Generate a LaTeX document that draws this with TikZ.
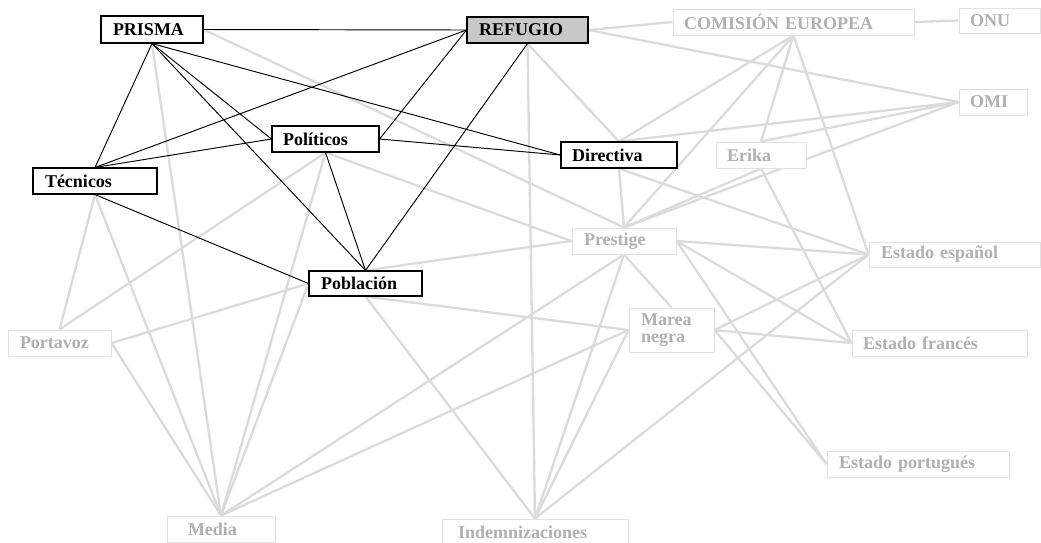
\documentclass[tikz,border=0pt]{standalone}
\usepackage{fontspec}
\setmainfont{Liberation Serif}
\definecolor{linkgray}{HTML}{DBDBDB}
\definecolor{boxgray}{HTML}{E2E2E2}
\definecolor{txtgray}{HTML}{B0B0B0}
\definecolor{refgray}{HTML}{C8C8C8}
\pgfdeclarelayer{paper}
\pgfdeclarelayer{links}
\pgfdeclarelayer{ties}
\pgfsetlayers{paper,links,ties,main}
\tikzset{
  label font/.style={font=\bfseries\fontsize{18}{16.5}\selectfont},
  core/.style={draw=black, line width=1.1pt, fill=white, inner ysep=0pt,
    align=left, label font, text=black},
  faint/.style={draw=boxgray, line width=1pt, fill=white, inner ysep=0pt,
    align=left, label font, text=txtgray},
  tie/.style={draw=black, line width=0.95pt},
  link/.style={draw=linkgray, line width=2.3pt},
}
% style, name, centre x, centre y, width, height, left padding, text
\newcommand\putbox[8]{%
  \pgfmathsetmacro\boxtw{#5-2*#7}%
  \node[#1, inner xsep=#7pt, text width=\boxtw pt, minimum height=#6pt]
    (#2) at (#3,#4) {#8};}
\begin{document}
\begin{tikzpicture}[x=1pt,y=-1pt]
\useasboundingbox (0,0) rectangle (1041,542);
\begin{pgfonlayer}{paper}
  \fill[white] (0,0) rectangle (1041,542);
\end{pgfonlayer}

% actors
\putbox{core}{prisma}{152}{29.5}{102}{27}{12}{PRISMA}
\putbox{core,fill=refgray}{refugio}{527.5}{30}{121}{26}{12}{REFUGIO}
\putbox{faint}{comision}{793.5}{22}{241}{26}{11}{COMISI\'ON EUROPEA}
\putbox{faint}{onu}{999.5}{20.5}{81}{25}{11}{ONU}
\putbox{faint}{omi}{993}{102}{68}{26}{11}{OMI}
\putbox{faint}{erika}{761}{155}{90}{26}{11}{Erika}
\putbox{core}{politicos}{325.5}{139}{107}{26}{11}{Pol\'{\i}ticos}
\putbox{core}{directiva}{619}{155}{116}{26}{11}{Directiva}
\putbox{core}{tecnicos}{95}{181}{124}{26}{12}{T\'ecnicos}
\putbox{core}{poblacion}{365.5}{283.5}{113}{25}{12}{Poblaci\'on}
\putbox{faint}{portavoz}{59.5}{343}{103}{26}{12}{Portavoz}
\putbox{faint}{prestige}{624}{241}{104}{26}{12}{Prestige}
\putbox{faint}{marea}{671.5}{330}{85}{44}{12}{Marea\\negra}
\putbox{faint}{espanol}{954.5}{254.5}{171}{25}{12}{Estado espa\~nol}
\putbox{faint}{frances}{939.5}{343}{175}{26}{11}{Estado franc\'es}
\putbox{faint}{portugues}{918}{464}{182}{26}{12}{Estado portugu\'es}
\putbox{faint}{media}{221}{529}{108}{26}{21}{Media}
\putbox{faint}{indemn}{535}{532}{186}{26}{16}{Indemnizaciones}

% weak relations
\begin{pgfonlayer}{links}
  \draw[link] (prisma.south) -- (media.north);
  \draw[link] (prisma.east) -- (prestige.north);
  \draw[link] (tecnicos.south) -- (portavoz.north);
  \draw[link] (tecnicos.south) -- (media.north);
  \draw[link] (politicos.south) -- (portavoz.north);
  \draw[link] (politicos.south) -- (media.north);
  \draw[link] (politicos.south) -- (prestige.west);
  \draw[link] (portavoz.east) -- (poblacion.west);
  \draw[link] (portavoz.east) -- (media.north);
  \draw[link] (poblacion.west) -- (media.north);
  \draw[link] (poblacion.north) -- (prestige.west);
  \draw[link] (poblacion.south) -- (marea.west);
  \draw[link] (poblacion.south) -- (indemn.north);
  \draw[link] (refugio.east) -- (comision.west);
  \draw[link] (refugio.east) -- (omi.west);
  \draw[link] (refugio.south) -- (directiva.north);
  \draw[link] (refugio.south) -- (indemn.north);
  \draw[link] (comision.east) -- (onu.west);
  \draw[link] (comision.south) -- (directiva.north);
  \draw[link] (comision.south) -- (prestige.north);
  \draw[link] (comision.south) -- (erika.north);
  \draw[link] (comision.south) -- (espanol.west);
  \draw[link] (omi.west) -- (directiva.north);
  \draw[link] (omi.west) -- (erika.north);
  \draw[link] (omi.west) -- (prestige.north);
  \draw[link] (erika.south) -- (prestige.north);
  \draw[link] (erika.south) -- (frances.west);
  \draw[link] (directiva.south) -- (prestige.north);
  \draw[link] (directiva.south) -- (espanol.west);
  \draw[link] (prestige.east) -- (espanol.west);
  \draw[link] (prestige.east) -- (frances.west);
  \draw[link] (prestige.east) -- (portugues.west);
  \draw[link] (prestige.south) -- (marea.north);
  \draw[link] (prestige.south) -- (media.north);
  \draw[link] (prestige.south) -- (indemn.north);
  \draw[link] (marea.west) -- (media.north);
  \draw[link] (marea.west) -- (indemn.north);
  \draw[link] (marea.east) -- (espanol.west);
  \draw[link] (marea.east) -- (frances.west);
  \draw[link] (marea.east) -- (portugues.west);
  \draw[link] (indemn.north) -- (espanol.west);
\end{pgfonlayer}

% strong relations
\begin{pgfonlayer}{ties}
  \draw[tie] (prisma.east) -- (refugio.west);
  \draw[tie] (prisma.south) -- (tecnicos.north);
  \draw[tie] (prisma.south) -- (politicos.west);
  \draw[tie] (prisma.south) -- (directiva.west);
  \draw[tie] (prisma.south) -- (poblacion.north);
  \draw[tie] (tecnicos.north) -- (refugio.west);
  \draw[tie] (tecnicos.north) -- (politicos.west);
  \draw[tie] (tecnicos.south) -- (poblacion.west);
  \draw[tie] (politicos.east) -- (refugio.west);
  \draw[tie] (politicos.east) -- (directiva.west);
  \draw[tie] (politicos.south) -- (poblacion.north);
  \draw[tie] (refugio.south) -- (poblacion.north);
\end{pgfonlayer}
\end{tikzpicture}
\end{document}
